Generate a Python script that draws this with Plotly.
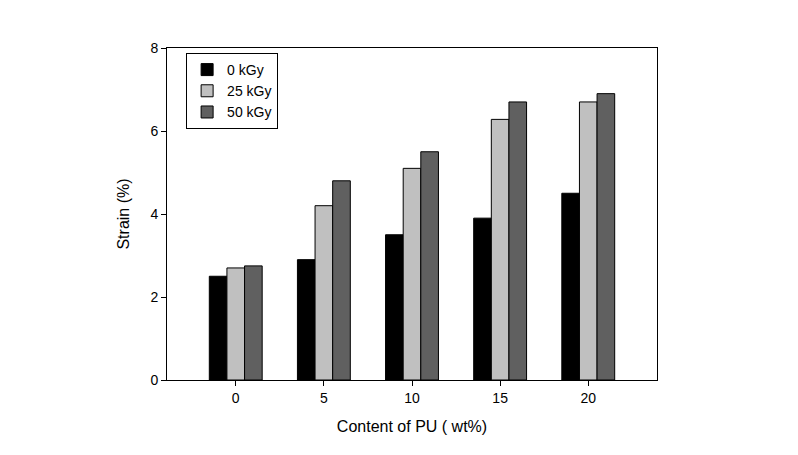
import plotly.graph_objects as go

categories = ["0", "5", "10", "15", "20"]
series_names = ["0 kGy", "25 kGy", "50 kGy"]
strain_0kGy = [2.5, 2.9, 3.5, 3.9, 4.5]
strain_25kGy = [2.7, 4.2, 5.1, 6.28, 6.7]
strain_50kGy = [2.75, 4.8, 5.5, 6.7, 6.9]
y_ticks = [0, 2, 4, 6, 8]

colors = ["#000000", "#c0c0c0", "#606060"]
font = "Liberation Sans, Arial, sans-serif"

fig = go.Figure()
for name, vals, c in zip(series_names, [strain_0kGy, strain_25kGy, strain_50kGy], colors):
    fig.add_trace(go.Bar(
        x=categories, y=vals, name=name,
        marker=dict(color=c, line=dict(color="#000000", width=1)),
    ))

fig.update_layout(
    width=798, height=455,
    margin=dict(l=159, r=149, t=40, b=83),
    paper_bgcolor="white", plot_bgcolor="white",
    barmode="group", bargap=0.4, bargroupgap=0,
    font=dict(family=font, size=14, color="#000000"),
    showlegend=True,
    legend=dict(
        x=0.039, y=0.985, xanchor="left", yanchor="top",
        bordercolor="#000000", borderwidth=1,
        bgcolor="white",
        font=dict(family=font, size=14, color="#000000"),
        tracegroupgap=0,
    ),
    xaxis=dict(
        type="category", range=[-0.78, 4.78],
        showline=True, linecolor="#000000", linewidth=1, mirror=True,
        ticks="outside", ticklen=5, tickcolor="#000000",
        showgrid=False, zeroline=False,
        tickfont=dict(family=font, size=14),
        title=dict(text="Content of PU ( wt%)", font=dict(family=font, size=16), standoff=16),
    ),
    yaxis=dict(
        range=[0, 8], tickvals=y_ticks,
        showline=True, linecolor="#000000", linewidth=1, mirror=True,
        ticks="outside", ticklen=5, tickcolor="#000000",
        showgrid=False, zeroline=False,
        tickfont=dict(family=font, size=14),
        title=dict(text="Strain (%)", font=dict(family=font, size=16), standoff=16),
    ),
)

fig.write_html("out.html")
